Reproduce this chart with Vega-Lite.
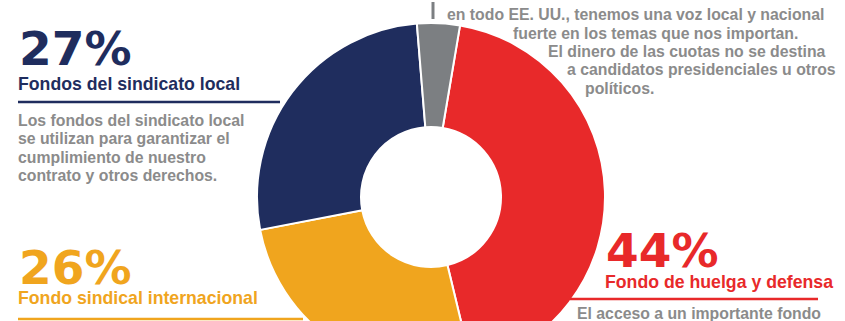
{
  "$schema": "https://vega.github.io/schema/vega-lite/v6.json",
  "width": 845,
  "height": 321,
  "padding": 0,
  "autosize": {"type": "fit", "contains": "padding"},
  "background": "white",
  "config": {
    "view": {"stroke": null},
    "text": {"font": "Liberation Sans", "fontWeight": "bold", "align": "left", "baseline": "alphabetic"}
  },
  "datasets": {
    "slices": [
      {"fund": "Fondo de huelga y defensa", "share": 44, "ord": 1},
      {"fund": "Fondo sindical internacional", "share": 26, "ord": 2},
      {"fund": "Fondos del sindicato local", "share": 27, "ord": 3},
      {"fund": "Acción política", "share": 4, "ord": 4}
    ],
    "notes": [
      {"id": "local", "pct": "27%", "title": "Fondos del sindicato local", "desc": ["Los fondos del sindicato local", "se utilizan para garantizar el", "cumplimiento de nuestro", "contrato y otros derechos."]},
      {"id": "intl", "pct": "26%", "title": "Fondo sindical internacional", "desc": [""]},
      {"id": "strike", "pct": "44%", "title": "Fondo de huelga y defensa", "desc": ["El acceso a un importante fondo"]},
      {"id": "pol1", "pct": "", "title": "", "desc": ["en todo EE. UU., tenemos una voz local y nacional"]},
      {"id": "pol2", "pct": "", "title": "", "desc": ["fuerte en los temas que nos importan."]},
      {"id": "pol3", "pct": "", "title": "", "desc": ["El dinero de las cuotas no se destina"]},
      {"id": "pol4", "pct": "", "title": "", "desc": ["a candidatos presidenciales u otros"]},
      {"id": "pol5", "pct": "", "title": "", "desc": ["políticos."]}
    ]
  },
  "layer": [
    {
      "data": {"name": "slices"},
      "mark": {"type": "arc", "x": 431, "y": 195, "outerRadius": 174, "innerRadius": 70, "stroke": "white", "strokeWidth": 2},
      "encoding": {
        "theta": {"field": "share", "type": "quantitative", "stack": true, "scale": {"range": [0.1676, 6.4508]}},
        "color": {
          "field": "fund", "type": "nominal", "legend": null,
          "scale": {
            "domain": ["Fondo de huelga y defensa", "Fondo sindical internacional", "Fondos del sindicato local", "Acción política"],
            "range": ["#E8292A", "#F0A51E", "#1F2D5E", "#7C7F82"]
          }
        },
        "order": {"field": "ord", "type": "quantitative"}
      }
    },
    {
      "data": {"name": "notes"}, "transform": [{"filter": "datum.id == 'local'"}],
      "mark": {"type": "text", "x": 19, "y": 63, "font": "DejaVu Sans", "fontSize": 47, "color": "#1F2D5E"},
      "encoding": {"text": {"field": "pct", "type": "nominal"}}
    },
    {
      "data": {"name": "notes"}, "transform": [{"filter": "datum.id == 'local'"}],
      "mark": {"type": "text", "x": 18, "y": 88, "fontSize": 17.7, "color": "#1F2D5E"},
      "encoding": {"text": {"field": "title", "type": "nominal"}}
    },
    {
      "data": {"name": "notes"}, "transform": [{"filter": "datum.id == 'local'"}],
      "mark": {"type": "rule", "strokeWidth": 2.5, "color": "#1F2D5E"},
      "encoding": {"x": {"value": 18}, "x2": {"value": 280}, "y": {"value": 100}}
    },
    {
      "data": {"name": "notes"}, "transform": [{"filter": "datum.id == 'local'"}],
      "mark": {"type": "text", "x": 18, "y": 124, "fontSize": 15.8, "lineHeight": 18.3, "color": "#8B8B8B"},
      "encoding": {"text": {"field": "desc", "type": "nominal"}}
    },
    {
      "data": {"name": "notes"}, "transform": [{"filter": "datum.id == 'intl'"}],
      "mark": {"type": "text", "x": 19, "y": 282, "font": "DejaVu Sans", "fontSize": 47, "color": "#F0A51E"},
      "encoding": {"text": {"field": "pct", "type": "nominal"}}
    },
    {
      "data": {"name": "notes"}, "transform": [{"filter": "datum.id == 'intl'"}],
      "mark": {"type": "text", "x": 18, "y": 302, "fontSize": 17.7, "color": "#F0A51E"},
      "encoding": {"text": {"field": "title", "type": "nominal"}}
    },
    {
      "data": {"name": "notes"}, "transform": [{"filter": "datum.id == 'intl'"}],
      "mark": {"type": "rule", "strokeWidth": 2.5, "color": "#F0A51E"},
      "encoding": {"x": {"value": 18}, "x2": {"value": 303}, "y": {"value": 317}}
    },
    {
      "data": {"name": "notes"}, "transform": [{"filter": "datum.id == 'strike'"}],
      "mark": {"type": "text", "x": 606, "y": 265, "font": "DejaVu Sans", "fontSize": 47, "color": "#E8292A"},
      "encoding": {"text": {"field": "pct", "type": "nominal"}}
    },
    {
      "data": {"name": "notes"}, "transform": [{"filter": "datum.id == 'strike'"}],
      "mark": {"type": "text", "x": 605, "y": 286, "fontSize": 17.7, "color": "#E8292A"},
      "encoding": {"text": {"field": "title", "type": "nominal"}}
    },
    {
      "data": {"name": "notes"}, "transform": [{"filter": "datum.id == 'strike'"}],
      "mark": {"type": "rule", "strokeWidth": 2.5, "color": "#E8292A"},
      "encoding": {"x": {"value": 570}, "x2": {"value": 818}, "y": {"value": 297}}
    },
    {
      "data": {"name": "notes"}, "transform": [{"filter": "datum.id == 'strike'"}],
      "mark": {"type": "text", "x": 577, "y": 317, "fontSize": 15.8, "color": "#8B8B8B"},
      "encoding": {"text": {"field": "desc", "type": "nominal"}}
    },
    {
      "data": {"name": "notes"}, "transform": [{"filter": "datum.id == 'pol1'"}],
      "mark": {"type": "rule", "strokeWidth": 3, "color": "#7C7F82"},
      "encoding": {"x": {"value": 433}, "y": {"value": 0}, "y2": {"value": 17}}
    },
    {
      "data": {"name": "notes"}, "transform": [{"filter": "datum.id == 'pol1'"}],
      "mark": {"type": "text", "x": 447, "y": 18.3, "fontSize": 15.8, "color": "#8B8B8B"},
      "encoding": {"text": {"field": "desc", "type": "nominal"}}
    },
    {
      "data": {"name": "notes"}, "transform": [{"filter": "datum.id == 'pol2'"}],
      "mark": {"type": "text", "x": 513, "y": 36.6, "fontSize": 15.8, "color": "#8B8B8B"},
      "encoding": {"text": {"field": "desc", "type": "nominal"}}
    },
    {
      "data": {"name": "notes"}, "transform": [{"filter": "datum.id == 'pol3'"}],
      "mark": {"type": "text", "x": 548, "y": 55, "fontSize": 15.8, "color": "#8B8B8B"},
      "encoding": {"text": {"field": "desc", "type": "nominal"}}
    },
    {
      "data": {"name": "notes"}, "transform": [{"filter": "datum.id == 'pol4'"}],
      "mark": {"type": "text", "x": 567, "y": 73.3, "fontSize": 15.8, "color": "#8B8B8B"},
      "encoding": {"text": {"field": "desc", "type": "nominal"}}
    },
    {
      "data": {"name": "notes"}, "transform": [{"filter": "datum.id == 'pol5'"}],
      "mark": {"type": "text", "x": 585, "y": 91.6, "fontSize": 15.8, "color": "#8B8B8B"},
      "encoding": {"text": {"field": "desc", "type": "nominal"}}
    }
  ]
}
